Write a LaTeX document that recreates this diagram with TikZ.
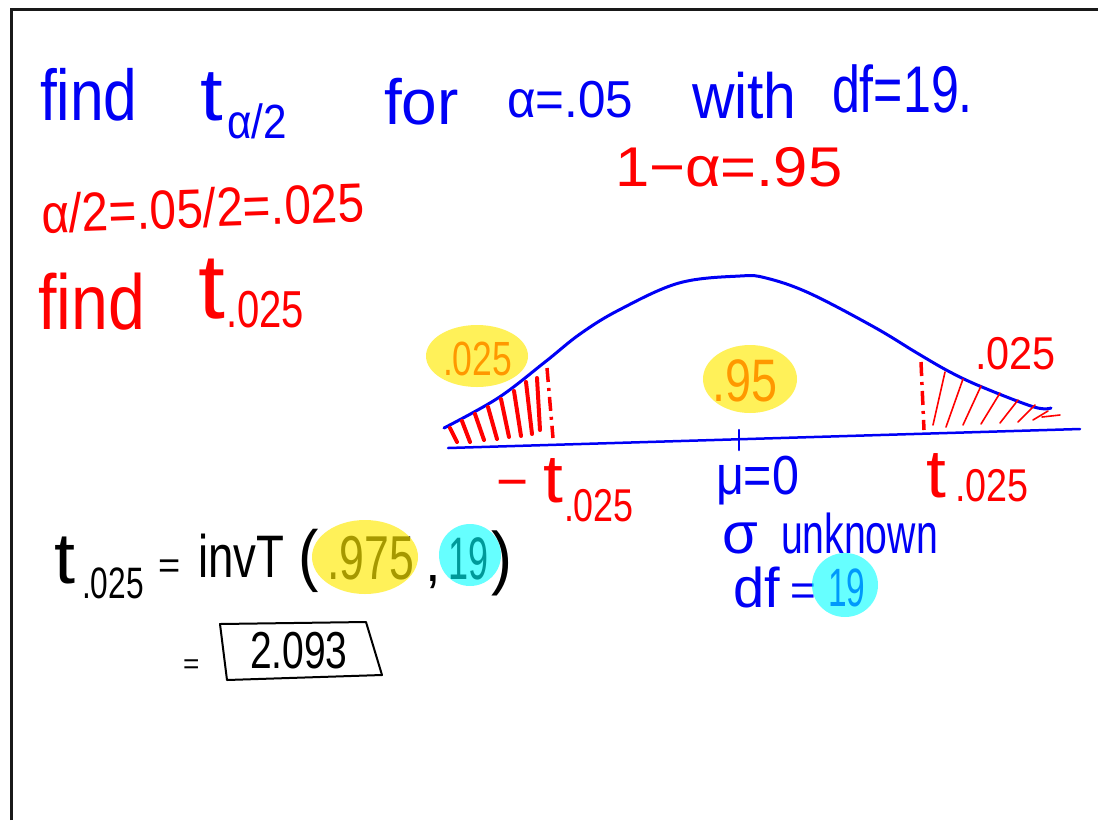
\documentclass[tikz,border=0pt]{standalone}
\usepackage{fontspec}
\setmainfont{Liberation Sans}
\usepackage{graphicx}
\definecolor{penblue}{RGB}{0,0,245}
\definecolor{penred}{RGB}{255,0,0}
\definecolor{hly}{RGB}{255,235,0}
\definecolor{hlc}{RGB}{0,255,255}
\newcommand\hwt[3]{{\fontsize{#1}{#1}\selectfont\scalebox{#2}[1]{#3}}}
\begin{document}
\begin{tikzpicture}[x=1pt,y=-1pt,
  txt/.style={inner sep=0pt,outer sep=0pt,anchor=base west},
  bl/.style={txt,text=penblue},
  rd/.style={txt,text=penred},
  bk/.style={txt,text=black},
  frameline/.style={line width=3pt,draw=black!90},
  curveline/.style={line width=3pt,draw=penblue,line cap=round,line join=round},
  axisline/.style={line width=2.5pt,draw=penblue,line cap=round},
  thickhatch/.style={line width=4pt,draw=penred,line cap=round},
  thinhatch/.style={line width=1.6pt,draw=penred,line cap=round},
  cutline/.style={line width=3.5pt,draw=penred,dash pattern=on 14pt off 6pt on 3pt off 6pt},
  hlyellow/.style={fill=hly,fill opacity=0.65},
  hlcyan/.style={fill=hlc,fill opacity=0.6},
  answerbox/.style={line width=2pt,draw=black,line join=round}]
\fill[white] (0,0) rectangle (1098,820);
\useasboundingbox (0,0) rectangle (1098,820);
\draw[frameline] (11,820) -- (11,9) -- (1098,9);

% blue heading
\node[bl] (find1) at (40,120) {\hwt{72}{0.84}{find}};
\node[bl] (ta) at (200,120) {\hwt{74}{1.1}{t}};
\node[bl] (ta2) at (227,138) {\hwt{48}{0.88}{α/2}};
\node[bl] (for) at (384,124) {\hwt{64}{1}{for}};
\node[bl] (alpha) at (507,117) {\hwt{52}{0.95}{α=.05}};
\node[bl] (with) at (692,118) {\hwt{64}{0.92}{with}};
\node[bl] (dfh) at (832,112) {\hwt{66}{0.76}{df=19.}};

% red work
\node[rd] (oneminus) at (615,186) {\hwt{56}{1.1}{1−α=.95}};
\node[rd,rotate=2] (half) at (42,233) {\hwt{55}{0.87}{α/2=.05/2=.025}};
\node[rd] (find2) at (38,329) {\hwt{78}{0.85}{find}};
\node[rd] (t2) at (198,318) {\hwt{92}{1.05}{t}};
\node[rd] (t2s) at (226,327) {\hwt{52}{0.77}{.025}};

% curve
\draw[curveline] plot[smooth,tension=0.6] coordinates {(444,428) (498,398) (545,362) (580,334) (619,310) (679,283) (740,276) (766,278) (809,293) (874,327) (917,353) (950,372) (982,387) (1034,407) (1051,408)};
\coordinate (axL) at (448,448);
\coordinate (axR) at (1080,429);
\draw[axisline] (axL) -- (axR);
\coordinate (tickT) at (739,430);
\coordinate (tickB) at (739,450);
\draw[axisline] (tickT) -- (tickB);

% left tail hatching
\draw[thickhatch] (450,428) -- (457,442);
\draw[thickhatch] (462,421) -- (470,442);
\draw[thickhatch] (475,414) -- (484,440);
\draw[thickhatch] (488,407) -- (497,439);
\draw[thickhatch] (501,399) -- (509,437);
\draw[thickhatch] (514,391) -- (521,436);
\draw[thickhatch] (526,382) -- (532,434);
\draw[thickhatch] (537,378) -- (540,430);
\draw[cutline] (547,368) -- (553,438);
% right tail hatching
\draw[cutline] (921,362) -- (924,430);
\draw[thinhatch] (933,425) -- (945,372);
\draw[thinhatch] (946,427) -- (963,379);
\draw[thinhatch] (963,425) -- (981,386);
\draw[thinhatch] (981,424) -- (1000,393);
\draw[thinhatch] (1000,423) -- (1018,400);
\draw[thinhatch] (1018,422) -- (1035,405);
\draw[thinhatch] (1033,420) -- (1048,411);
\draw[thinhatch] (1042,417) -- (1060,415);

% area labels
\node[rd] (p025a) at (443,375) {\hwt{48}{0.74}{.025}};
\node[rd] (p95) at (712,401) {\hwt{60}{0.78}{.95}};
\node[rd] (p025b) at (975,369) {\hwt{46}{0.9}{.025}};

% axis labels
\node[rd] (mt) at (496,500) {\hwt{55}{1}{−}};
\node[rd] (mtt) at (543,502) {\hwt{68}{1.05}{t}};
\node[rd] (mts) at (564,521) {\hwt{46}{0.78}{.025}};
\node[bl] (mu) at (716,494) {\hwt{55}{0.88}{μ=0}};
\node[rd] (rt) at (926,497) {\hwt{68}{1.05}{t}};
\node[rd] (rts) at (955,501) {\hwt{46}{0.82}{.025}};

% sigma unknown
\node[bl] (sigma) at (722,553) {\hwt{58}{1}{σ}};
\node[bl] (unk) at (781,553) {\hwt{56}{0.7}{unknown}};
\node[bl] (dfb) at (733,607) {\hwt{56}{1}{df}};
\node[bl] (eqb) at (790,605) {\hwt{44}{1}{=}};
\node[bl] (n19b) at (828,606) {\hwt{54}{0.62}{19}};

% black computation
\node[bk] (bt) at (54,583) {\hwt{72}{1.05}{t}};
\node[bk] (bts) at (82,598) {\hwt{44}{0.72}{.025}};
\node[bk] (beq) at (158,578) {\hwt{38}{1}{=}};
\node[bk] (inv) at (198,577) {\hwt{60}{0.76}{invT}};
\node[bk] (lp) at (298,578) {\hwt{68}{0.9}{(}};
\node[bk] (p975) at (327,579) {\hwt{62}{0.72}{.975}};
\node[bk] (comma) at (425,581) {\hwt{56}{1}{,}};
\node[bk] (n19) at (448,579) {\hwt{60}{0.6}{19}};
\node[bk] (rp) at (491,581) {\hwt{70}{0.9}{)}};
\node[bk] (req) at (183,673) {\hwt{28}{1}{=}};
\draw[answerbox] (220,624) -- (366,622) -- (382,675) -- (227,680) -- cycle;
\node[bk] (res) at (250,668) {\hwt{52}{0.75}{2.093}};

% highlights
\fill[hlyellow] (477,356) ellipse [x radius=51pt,y radius=31pt];
\fill[hlyellow] (750,379) ellipse [x radius=47pt,y radius=34pt];
\fill[hlyellow] (365,557) ellipse [x radius=53pt,y radius=37pt];
\fill[hlcyan] (470,555) ellipse [x radius=31pt,y radius=31pt];
\fill[hlcyan] (845,585) ellipse [x radius=33pt,y radius=32pt];
\end{tikzpicture}
\end{document}
